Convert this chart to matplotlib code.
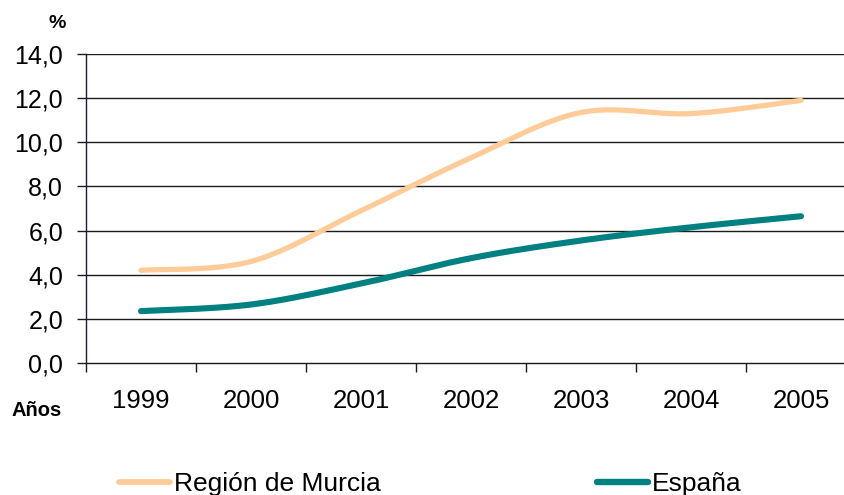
import numpy as np
import matplotlib
matplotlib.use("Agg")
import matplotlib.pyplot as plt
from matplotlib.lines import Line2D

years = ["1999", "2000", "2001", "2002", "2003", "2004", "2005"]
murcia = [4.2, 4.6, 6.9, 9.3, 11.35, 11.3, 11.9]
espana = [2.35, 2.65, 3.6, 4.75, 5.55, 6.15, 6.65]
yticks = [0, 2, 4, 6, 8, 10, 12, 14]

plt.rcParams['font.family'] = ['Liberation Sans', 'DejaVu Sans']

W, H = 845, 495
fig = plt.figure(figsize=(W / 100, H / 100), dpi=100)
ax = fig.add_axes([86 / W, 1 - 363 / H, 770 / W, 309 / H])

def smooth(xs, ys, sx=110.0, sy=22.07, n=40):
    # Excel-like Bezier smoothing computed in pixel-scaled space
    P = np.column_stack([np.asarray(xs, float) * sx, np.asarray(ys, float) * sy])
    out = []
    for i in range(len(P) - 1):
        p0 = P[i - 1] if i > 0 else P[i]
        p1, p2 = P[i], P[i + 1]
        p3 = P[i + 2] if i + 2 < len(P) else P[i + 1]
        c1 = p1 + (p2 - p0) / 6
        c2 = p2 - (p3 - p1) / 6
        t = np.linspace(0, 1, n)[:, None]
        seg = (1 - t) ** 3 * p1 + 3 * (1 - t) ** 2 * t * c1 + 3 * (1 - t) * t ** 2 * c2 + t ** 3 * p2
        out.append(seg if i == 0 else seg[1:])
    S = np.vstack(out)
    return S[:, 0] / sx, S[:, 1] / sy

x = np.arange(len(years))
mx, my = smooth(x, murcia)
ex, ey = smooth(x, espana)

for yv in yticks[1:]:
    ax.axhline(yv, color='#1a1a1a', lw=1.0, zorder=1)

ax.plot(mx, my, color='#FFCC99', lw=3.8, solid_capstyle='round', zorder=3)
ax.plot(ex, ey, color='#008080', lw=4.4, solid_capstyle='round', zorder=3)

ax.set_xlim(-0.5, len(years) - 0.5)
ax.set_ylim(0, 14)
ax.set_yticks(yticks)
ax.set_yticklabels([f"{v:.1f}".replace('.', ',') for v in yticks], fontsize=18)
ax.set_xticks(x)
ax.set_xticklabels(years, fontsize=18.5)
ax.set_xticks(np.arange(len(years) + 1) - 0.5, minor=True)
ax.tick_params(axis='x', which='major', length=0, pad=19)
ax.tick_params(axis='x', which='minor', length=6.5, color='#1a1a1a', width=1)
ax.tick_params(axis='y', length=6.5, color='#1a1a1a', width=1, pad=10)

for s in ['top', 'right']:
    ax.spines[s].set_visible(False)
ax.spines['left'].set_color('#1a1a3a')
ax.spines['bottom'].set_color('#1a1a1a')
ax.spines['left'].set_linewidth(1.0)
ax.spines['bottom'].set_linewidth(1.0)

fig.text(57 / W, 1 - 24 / H, '%', fontsize=14, fontweight='bold', ha='center', va='center')
fig.text(37 / W, 1 - 410 / H, 'Años', fontsize=14.5, fontweight='bold', ha='center', va='center')

# legend
ly = 1 - 482 / H
fig.add_artist(Line2D([119 / W, 170 / W], [ly, ly], color='#FFCC99', lw=4.2, solid_capstyle='round'))
fig.text(174 / W, 1 - 484 / H, 'Región de Murcia', fontsize=19, ha='left', va='center')
fig.add_artist(Line2D([597 / W, 648 / W], [ly, ly], color='#008080', lw=4.6, solid_capstyle='round'))
fig.text(652 / W, 1 - 484 / H, 'España', fontsize=19, ha='left', va='center')

fig.savefig('out.png', dpi=100)
